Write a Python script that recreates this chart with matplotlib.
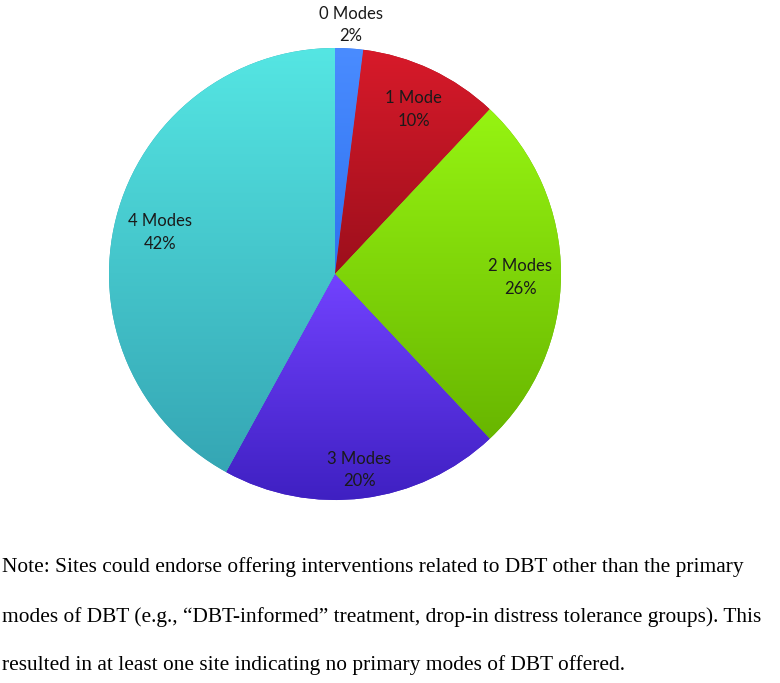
import matplotlib
matplotlib.use('Agg')
import matplotlib.pyplot as plt
import numpy as np
from matplotlib.colors import LinearSegmentedColormap

# Данные диаграммы
categories = ['0 Modes', '1 Mode', '2 Modes', '3 Modes', '4 Modes']
percents = [2, 10, 26, 20, 42]

# Градиенты (верх -> низ) для каждого сектора
top_colors = ['#4A8CFF', '#D81A2A', '#96F412', '#7242FF', '#55E6E3']
bottom_colors = ['#2F72F0', '#9C0F1C', '#68B600', '#3F20C2', '#35A6B4']
label_dist = [1.12, 0.82, 0.82, 0.86, 0.80]

note_lines = [
    'Note: Sites could endorse offering interventions related to DBT other than the primary',
    'modes of DBT (e.g., \u201cDBT-informed\u201d treatment, drop-in distress tolerance groups). This',
    'resulted in at least one site indicating no primary modes of DBT offered.',
]

W, H = 780, 683
fig = plt.figure(figsize=(W / 100, H / 100), dpi=100)
fig.patch.set_facecolor('white')

# Круг: центр ~(335, 274), радиус ~226 px
cx, cy, r = 335, 274, 226
ax = fig.add_axes([(cx - r) / W, (H - cy - r) / H, 2 * r / W, 2 * r / H])

wedges, _ = ax.pie(percents, startangle=90, counterclock=False, radius=1,
                   colors=bottom_colors, wedgeprops=dict(linewidth=0))

for w, c_top, c_bot in zip(wedges, top_colors, bottom_colors):
    ext = w.get_path().get_extents()
    cmap = LinearSegmentedColormap.from_list('g', [c_bot, c_top])
    grad = np.linspace(1, 0, 256).reshape(-1, 1)
    im = ax.imshow(grad, cmap=cmap, vmin=0, vmax=1, aspect='auto',
                   extent=[ext.x0, ext.x1, ext.y0, ext.y1],
                   interpolation='bilinear', zorder=2)
    im.set_clip_path(w)

for w, name, pct, d in zip(wedges, categories, percents, label_dist):
    ang = np.deg2rad((w.theta1 + w.theta2) / 2)
    ax.text(d * np.cos(ang), d * np.sin(ang) - 0.015, f'{name}\n{pct}%',
            ha='center', va='center', fontsize=12, family='Lato',
            color='#1a1a1a', linespacing=1.5, zorder=5, clip_on=False)

ax.set_xlim(-1, 1)
ax.set_ylim(-1, 1)
ax.set_aspect('equal')
ax.axis('off')

# Примечание
baselines = [572, 622, 670]
for line, yb in zip(note_lines, baselines):
    fig.text(2 / W, 1 - yb / H, line, ha='left', va='baseline',
             fontsize=15.4, family='Liberation Serif', color='black')

fig.savefig('out.png', dpi=100)
